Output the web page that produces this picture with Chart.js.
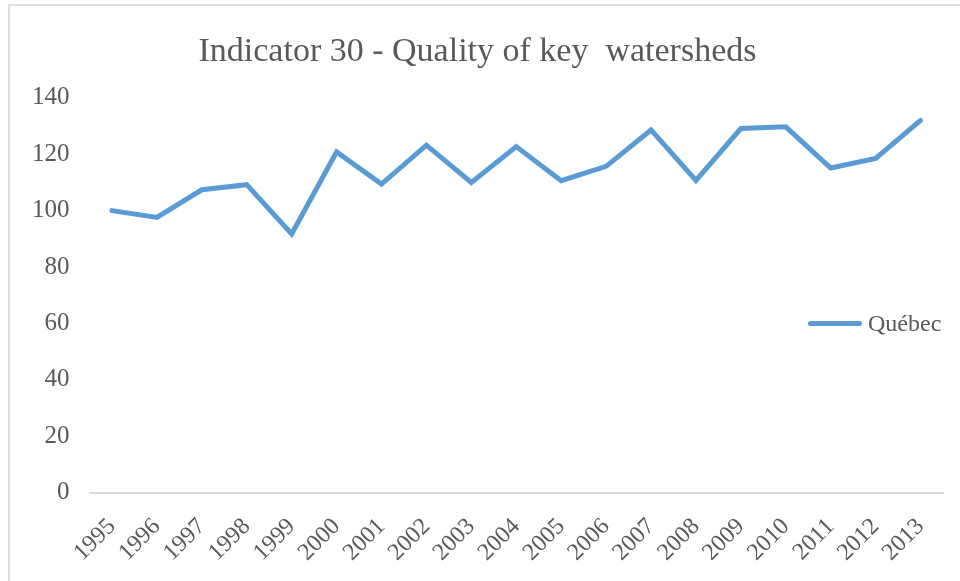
<!DOCTYPE html>
<html>
<head>
<meta charset="utf-8">
<script src="https://cdn.jsdelivr.net/npm/chart.js@4.4.1/dist/chart.umd.min.js"></script>
<style>
  html, body { margin: 0; padding: 0; background: #fff; overflow: hidden; }
  #wrap { position: relative; width: 960px; height: 581px; }
  #frame {
    position: absolute; left: 8px; top: 4px; width: 980px; height: 600px;
    border: 2px solid #dddddd; pointer-events: none;
  }
  #legend {
    position: absolute; left: 808px; top: 310px;
    font-family: "Liberation Serif", serif; font-size: 24px; color: #595959;
    display: flex; align-items: center;
  }
  #legend .swatch {
    display: inline-block; width: 54px; height: 5px; border-radius: 3px;
    background: #5b9bd5; margin-right: 6px;
  }
</style>
</head>
<body>
<div id="wrap">
  <canvas id="chart" width="960" height="581"></canvas>
  <div id="frame"></div>
  <div id="legend"><span class="swatch"></span><span>Québec</span></div>
</div>
<script>
// Data
const years = ['1995', '1996', '1997', '1998', '1999', '2000', '2001', '2002', '2003', '2004',
  '2005', '2006', '2007', '2008', '2009', '2010', '2011', '2012', '2013'];
const quebec = [100, 97.6, 107.4, 109.2, 91.7, 120.8, 109.4, 123.2, 110.0, 122.7,
  110.6, 115.7, 128.6, 110.7, 129.1, 129.7, 115.1, 118.5, 132.0];
const seriesName = 'Québec';
const chartTitle = 'Indicator 30 - Quality of key  watersheds';

const textColor = '#595959';
const lineColor = '#5b9bd5';

new Chart(document.getElementById('chart'), {
  type: 'line',
  data: {
    labels: years,
    datasets: [
      {
        label: seriesName,
        data: quebec,
        borderColor: lineColor,
        backgroundColor: lineColor,
        borderWidth: 5,
        tension: 0,
        pointRadius: 0,
        borderCapStyle: 'round',
        borderJoinStyle: 'miter',
      },
    ],
  },
  options: {
    responsive: false,
    animation: false,
    layout: { padding: { left: 12, right: 17, top: 0, bottom: -6 } },
    plugins: {
      legend: { display: false },
      tooltip: { enabled: false },
      title: {
        display: true,
        text: chartTitle,
        color: textColor,
        font: { family: 'Liberation Serif', size: 34, weight: 'normal' },
        padding: { top: 32, bottom: 25 },
      },
    },
    scales: {
      x: {
        offset: true,
        grid: { display: false, drawTicks: false },
        border: { display: true, color: '#d9d9d9', width: 2 },
        ticks: {
          color: textColor,
          font: { family: 'Liberation Serif', size: 24 },
          minRotation: 45,
          maxRotation: 45,
          padding: 20,
          autoSkip: false,
        },
        // let the rotated labels hang past the plot's left edge like the original
        afterFit: (scale) => {
          scale.paddingLeft = 0;
          scale.paddingRight = 0;
        },
      },
      y: {
        min: 0,
        max: 140,
        grid: { display: false, drawTicks: false },
        border: { display: false },
        ticks: {
          stepSize: 20,
          color: textColor,
          font: { family: 'Liberation Serif', size: 25 },
          padding: 20,
        },
      },
    },
  },
});
</script>
</body>
</html>
